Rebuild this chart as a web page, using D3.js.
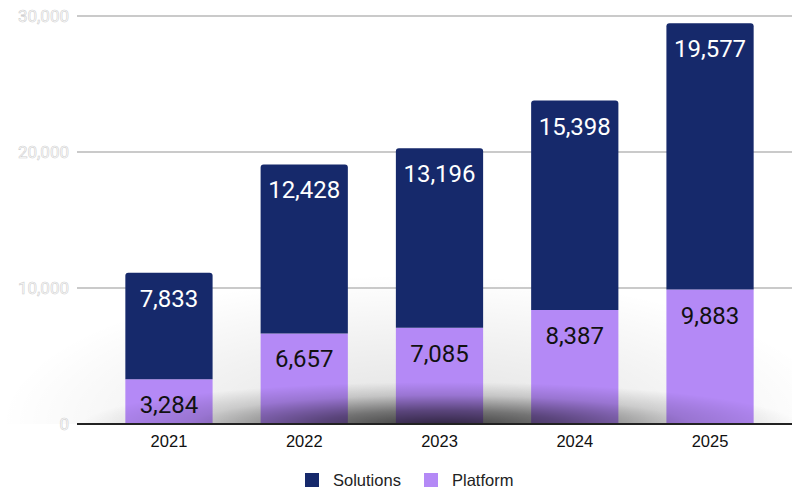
<!DOCTYPE html>
<html>
<head>
<meta charset="utf-8">
<script src="https://cdn.jsdelivr.net/npm/d3@7"></script>
<style>
  body { margin: 0; background: #fff; }
  svg { display: block; }
</style>
</head>
<body>
<svg id="chart"></svg>
<script>
const years = ['2021', '2022', '2023', '2024', '2025'];
const platform = [3284, 6657, 7085, 8387, 9883];
const solutions = [7833, 12428, 13196, 15398, 19577];
const yTicks = [0, 10000, 20000, 30000];
const seriesNames = ['Solutions', 'Platform'];

const W = 792, H = 488;
const NAVY = '#16296b', PURPLE = '#b489f6';

const svg = d3.select('#chart').attr('width', W).attr('height', H);
const defs = svg.append('defs');

const x = d3.scaleBand().domain(years).range([101, 778]).paddingInner(0.355).paddingOuter(0.18);
const y = d3.scaleLinear().domain([0, 30000]).range([424, 16]);

// soft radial gradients for the floor haze and the shadow
function radial(id, stops) {
    const g = defs.append('radialGradient').attr('id', id)
        .attr('cx', '50%').attr('cy', '50%').attr('r', '50%');
    stops.forEach(([o, a]) => g.append('stop')
        .attr('offset', o).attr('stop-color', '#000').attr('stop-opacity', a));
}
radial('haze', [['0%', 0.12], ['60%', 0.05], ['100%', 0]]);
radial('shadow', [['0%', 0.75], ['35%', 0.5], ['70%', 0.15], ['100%', 0]]);

defs.append('clipPath').attr('id', 'floor')
    .append('rect').attr('x', 0).attr('y', 0).attr('width', W).attr('height', y(0));

svg.append('ellipse')
    .attr('clip-path', 'url(#floor)')
    .attr('cx', 420).attr('cy', y(0))
    .attr('rx', 420).attr('ry', 150)
    .attr('fill', 'url(#haze)');

// gridlines
svg.append('g').selectAll('line')
    .data(yTicks.filter(d => d > 0))
    .join('line')
    .attr('x1', 77).attr('x2', W)
    .attr('y1', d => y(d)).attr('y2', d => y(d))
    .attr('stroke', '#b8b8b8').attr('stroke-width', 1.5);

// y tick labels (faint outlined)
svg.append('g').selectAll('text')
    .data(yTicks)
    .join('text')
    .attr('x', 69).attr('y', d => y(d) + 6)
    .attr('text-anchor', 'end')
    .attr('font-family', 'Roboto, sans-serif').attr('font-size', 17)
    .attr('fill', '#fff').attr('stroke', '#cfcfcf').attr('stroke-width', 0.6)
    .text(d => d3.format(',')(d));

const stack = d3.stack().keys(['Platform', 'Solutions'])(
    years.map((yr, i) => ({ year: yr, Platform: platform[i], Solutions: solutions[i] })));

const colors = { Platform: PURPLE, Solutions: NAVY };
const bw = x.bandwidth();

stack.forEach(layer => {
    svg.append('g').selectAll('path')
        .data(layer)
        .join('path')
        .attr('fill', colors[layer.key])
        .attr('d', d => {
            const x0 = x(d.data.year), x1 = x0 + bw;
            const top = y(d[1]), bot = y(d[0]);
            const r = layer.key === 'Solutions' ? 3 : 0;
            return `M${x0},${bot}V${top + r}Q${x0},${top} ${x0 + r},${top}H${x1 - r}Q${x1},${top} ${x1},${top + r}V${bot}Z`;
        });
});

// floor shadow over bars
svg.append('ellipse')
    .attr('clip-path', 'url(#floor)')
    .attr('cx', 440).attr('cy', y(0) + 2)
    .attr('rx', 360).attr('ry', 44)
    .attr('fill', 'url(#shadow)');

// baseline
svg.append('line')
    .attr('x1', 77).attr('x2', W)
    .attr('y1', y(0)).attr('y2', y(0))
    .attr('stroke', '#222').attr('stroke-width', 2);

// value labels
stack.forEach(layer => {
    svg.append('g').selectAll('text')
        .data(layer)
        .join('text')
        .attr('x', d => x(d.data.year) + bw / 2)
        .attr('y', d => y(d[1]) + 34)
        .attr('text-anchor', 'middle')
        .attr('font-family', 'Roboto, sans-serif').attr('font-size', 24)
        .attr('fill', layer.key === 'Solutions' ? '#fff' : '#111')
        .text(d => d3.format(',')(d[1] - d[0]));
});

// x axis labels
svg.append('g').selectAll('text')
    .data(years)
    .join('text')
    .attr('x', d => x(d) + bw / 2)
    .attr('y', 447)
    .attr('text-anchor', 'middle')
    .attr('font-family', '"Liberation Sans", Arial, sans-serif').attr('font-size', 16.5)
    .attr('fill', '#111')
    .text(d => d);

// legend
const legendX = [305, 424];
const leg = svg.append('g').selectAll('g')
    .data(seriesNames)
    .join('g')
    .attr('transform', (d, i) => `translate(${legendX[i]},473)`);
leg.append('rect')
    .attr('width', 14).attr('height', 14)
    .attr('fill', d => d === 'Solutions' ? NAVY : PURPLE);
leg.append('text')
    .attr('x', 28).attr('y', 13)
    .attr('font-family', '"Liberation Sans", Arial, sans-serif').attr('font-size', 16.5)
    .attr('fill', '#222')
    .text(d => d);
</script>
</body>
</html>
